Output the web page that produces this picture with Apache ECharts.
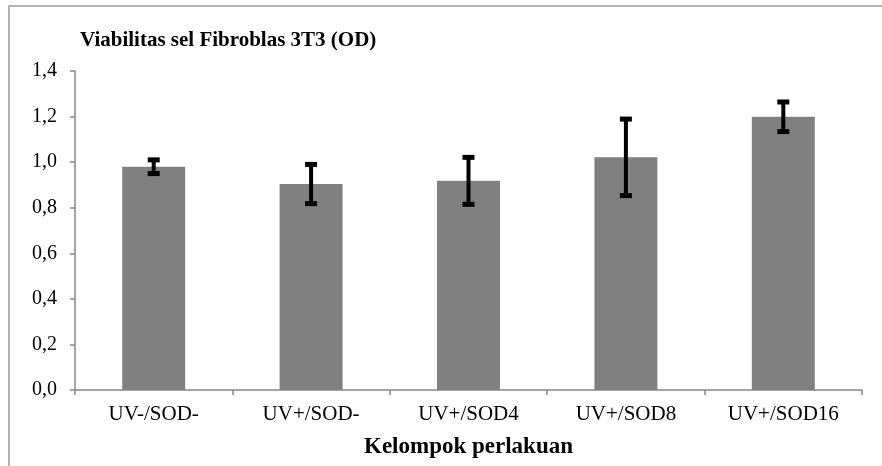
<!DOCTYPE html>
<html>
<head>
<meta charset="utf-8">
<script src="https://cdn.jsdelivr.net/npm/echarts@6/dist/echarts.min.js"></script>
<style>
  html, body { margin: 0; padding: 0; background: #fff; }
  #chart { width: 882px; height: 466px; }
</style>
</head>
<body>
<div id="chart"></div>
<script>
// data
const categories = ['UV-/SOD-', 'UV+/SOD-', 'UV+/SOD4', 'UV+/SOD8', 'UV+/SOD16'];
const means = [0.98, 0.904, 0.918, 1.021, 1.199];
const sd = [0.03, 0.086, 0.103, 0.168, 0.065];
const yTicks = [0, 1.4, 0.2]; // min, max, interval

const errData = categories.map((c, i) => [i, means[i] - sd[i], means[i] + sd[i]]);

const serif = '"Liberation Serif", "DejaVu Serif", serif';
const chart = echarts.init(document.getElementById('chart'));

chart.setOption({
  animation: false,
  title: {
    text: 'Viabilitas sel Fibroblas 3T3 (OD)',
    left: 75,
    top: 25,
    textStyle: { fontFamily: serif, fontWeight: 'bold', fontSize: 21, color: '#000' }
  },
  graphic: [{
    type: 'rect',
    shape: { x: 9, y: 6, width: 900, height: 500 },
    style: { fill: 'none', stroke: '#9a9a9a', lineWidth: 1.5 },
    silent: true
  }],
  grid: { left: 75, right: 20, top: 71, bottom: 76 },
  xAxis: {
    type: 'category',
    data: categories,
    name: 'Kelompok perlakuan',
    nameLocation: 'middle',
    nameGap: 46,
    nameTextStyle: { fontFamily: serif, fontWeight: 'bold', fontSize: 23, color: '#000' },
    axisLine: { lineStyle: { color: '#888', width: 1.5 } },
    axisTick: { show: true, length: 5, lineStyle: { color: '#888', width: 1.5 } },
    axisLabel: { fontFamily: serif, fontSize: 21, color: '#000', margin: 14 }
  },
  yAxis: {
    type: 'value',
    min: yTicks[0],
    max: yTicks[1],
    interval: yTicks[2],
    splitLine: { show: false },
    axisLine: { show: true, lineStyle: { color: '#888', width: 1.5 } },
    axisTick: { show: true, length: 5, lineStyle: { color: '#888', width: 1.5 } },
    axisLabel: {
      fontFamily: serif, fontSize: 20, color: '#000', margin: 18,
      formatter: v => v.toFixed(1).replace('.', ',')
    }
  },
  series: [
    {
      type: 'bar',
      data: means,
      barWidth: '40%',
      itemStyle: { color: '#808080' }
    },
    {
      type: 'custom',
      data: errData,
      z: 10,
      renderItem: (params, api) => {
        const x = api.value(0);
        const lo = api.coord([x, api.value(1)]);
        const hi = api.coord([x, api.value(2)]);
        const cw = 12, ch = 5;
        return {
          type: 'group',
          children: [
            { type: 'line', shape: { x1: lo[0], y1: lo[1], x2: hi[0], y2: hi[1] },
              style: { stroke: '#000', lineWidth: 4 } },
            { type: 'rect', shape: { x: hi[0] - cw / 2, y: hi[1] - ch / 2, width: cw, height: ch },
              style: { fill: '#000' } },
            { type: 'rect', shape: { x: lo[0] - cw / 2, y: lo[1] - ch / 2, width: cw, height: ch },
              style: { fill: '#000' } }
          ]
        };
      }
    }
  ]
});
</script>
</body>
</html>
